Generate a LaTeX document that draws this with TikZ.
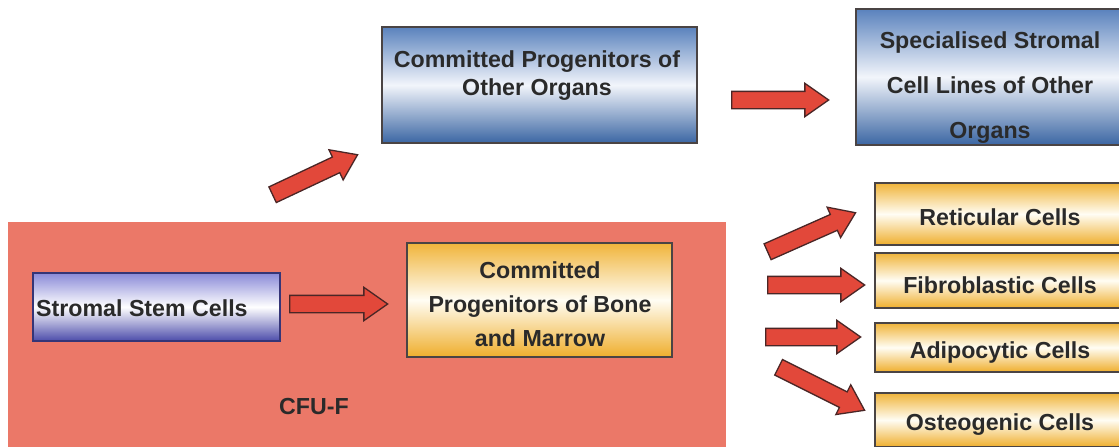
\documentclass[tikz,border=0pt]{standalone}
\usepackage{fontspec}
\setmainfont{Liberation Sans}
\usetikzlibrary{shapes.arrows,calc}
\definecolor{arrowred}{HTML}{E2483A}
\definecolor{arrowline}{HTML}{4A2626}
\definecolor{cfured}{HTML}{EB7868}
\definecolor{boxline}{HTML}{4A4444}
\definecolor{textgray}{HTML}{2A2A2A}
\definecolor{bluetop}{HTML}{5A82BD}
\definecolor{bluebot}{HTML}{3B66A3}
\definecolor{bluemid}{HTML}{F2F5FB}
\definecolor{stemtop}{HTML}{8A8AD8}
\definecolor{stembot}{HTML}{4C4CAA}
\definecolor{yeltop}{HTML}{F0B43A}
\definecolor{yelbot}{HTML}{EFAE2C}
\definecolor{yelmid}{HTML}{FFFDF4}
\tikzset{
  boxbase/.style={draw=boxline, line width=1.3pt, inner sep=0pt},
  bluebox/.style={boxbase, top color=bluetop, bottom color=bluebot, middle color=bluemid},
  stembox/.style={boxbase, draw=stembot!70!black, top color=stemtop, bottom color=stembot, middle color=white},
  yelbox/.style={boxbase, top color=yeltop, bottom color=yelbot, middle color=yelmid},
  txt/.style={font=\fontsize{23.2}{28}\selectfont\bfseries, text=textgray, align=center, inner sep=0pt},
  blockarrow/.style={single arrow, draw=arrowline, fill=arrowred, line width=1.3pt,
    inner xsep=0pt, inner ysep=8pt, single arrow head extend=8pt, single arrow tip angle=70}
}
\newcommand\blockarr[2]{%
  \pgfpointdiff{\pgfpointanchor{#1}{center}}{\pgfpointanchor{#2}{center}}%
  \pgfgetlastxy{\bax}{\bay}%
  \pgfmathsetmacro\balen{veclen(\bax,\bay)}%
  \pgfmathsetmacro\baang{atan2(\bay,\bax)}%
  \node[blockarrow, minimum height=\balen pt, rotate=\baang, anchor=tail] at (#1) {};%
}
\begin{document}
\begin{tikzpicture}[x=1pt,y=-1pt]
\useasboundingbox (0,0) rectangle (1119,447);
\fill[white] (0,0) rectangle (1119,447);
% CFU-F background
\node[fill=cfured, draw=none, minimum width=718pt, minimum height=226pt, inner sep=0pt] (cfu) at (367,335) {};
\node[txt] (cfut) at (314,407) {CFU-F};
% boxes
\node[bluebox, minimum width=315pt, minimum height=116pt] (other) at (539.5,85) {};
\node[txt, font=\fontsize{23.2}{28}\selectfont\bfseries] (othert) at (537,76) {Committed Progenitors of\\Other Organs};
\node[bluebox, minimum width=269pt, minimum height=136pt] (spec) at (990.5,77) {};
\node[txt, font=\fontsize{23.2}{45}\selectfont\bfseries] (spect) at (990,88) {Specialised Stromal\\Cell Lines of Other\\Organs};
\node[stembox, minimum width=247pt, minimum height=68pt] (stem) at (156.5,307) {};
\node[txt, anchor=west] (stemt) at (36,308) {Stromal Stem Cells};
\node[yelbox, minimum width=265pt, minimum height=114pt] (bone) at (539.5,300) {};
\node[txt, font=\fontsize{23.2}{34}\selectfont\bfseries] (bonet) at (540,304) {Committed\\Progenitors of Bone\\and Marrow};
\node[yelbox, minimum width=250pt, minimum height=62pt] (ret) at (1000,214) {};
\node[txt] (rett) at (1000,217) {Reticular Cells};
\node[yelbox, minimum width=250pt, minimum height=55pt] (fib) at (1000,280.5) {};
\node[txt] (fibt) at (1000,285) {Fibroblastic Cells};
\node[yelbox, minimum width=250pt, minimum height=49pt] (adi) at (1000,347.5) {};
\node[txt] (adit) at (1000,352) {Adipocytic Cells};
\node[yelbox, minimum width=250pt, minimum height=54pt] (ost) at (1000,420) {};
\node[txt] (ostt) at (1000,425) {Osteogenic Cells};
% arrow end points
\coordinate (a1t) at (272,195); \coordinate (a1h) at (357,155);
\coordinate (a2t) at (731,100); \coordinate (a2h) at (828,100);
\coordinate (a3t) at (289,304); \coordinate (a3h) at (387,304);
\coordinate (a4t) at (767,252); \coordinate (a4h) at (855,213);
\coordinate (a5t) at (767,285); \coordinate (a5h) at (864,285);
\coordinate (a6t) at (765,337); \coordinate (a6h) at (860,337);
\coordinate (a7t) at (778,367); \coordinate (a7h) at (864,410);
\blockarr{a1t}{a1h}
\blockarr{a2t}{a2h}
\blockarr{a3t}{a3h}
\blockarr{a4t}{a4h}
\blockarr{a5t}{a5h}
\blockarr{a6t}{a6h}
\blockarr{a7t}{a7h}
\end{tikzpicture}
\end{document}
